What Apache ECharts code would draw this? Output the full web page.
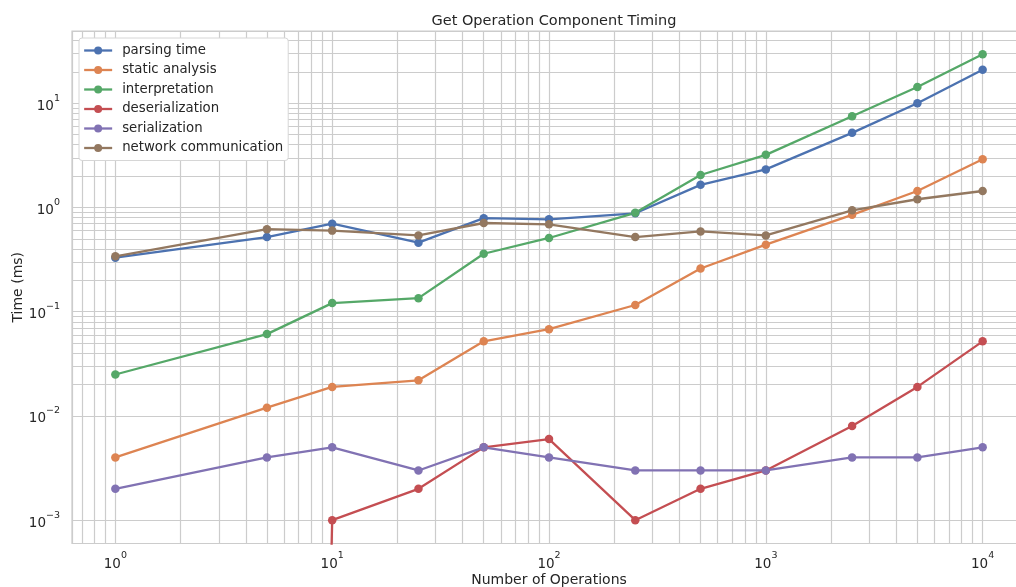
<!DOCTYPE html>
<html>
<head>
<meta charset="utf-8">
<script src="https://cdn.jsdelivr.net/npm/echarts@6/dist/echarts.min.js"></script>
<style>
  html, body { margin: 0; padding: 0; background: #ffffff; overflow: hidden; }
  #chart { width: 1016px; height: 587px; }
</style>
</head>
<body>
<div id="chart"></div>
<script>
// Number of operations (x) and per-component timings in ms (y)
const ops = [1, 5, 10, 25, 50, 100, 250, 500, 1000, 2500, 5000, 10000];
const parsingTime = [0.33, 0.52, 0.70, 0.46, 0.79, 0.77, 0.88, 1.65, 2.32, 5.2, 10.0, 21.0];
const staticAnalysis = [0.004, 0.012, 0.019, 0.022, 0.052, 0.068, 0.116, 0.26, 0.44, 0.85, 1.44, 2.9];
const interpretation = [0.025, 0.061, 0.121, 0.135, 0.36, 0.51, 0.89, 2.05, 3.2, 7.5, 14.3, 29.5];
const deserialization = [0, 0, 0.001, 0.002, 0.005, 0.006, 0.001, 0.002, 0.003, 0.008, 0.019, 0.052];
const serialization = [0.002, 0.004, 0.005, 0.003, 0.005, 0.004, 0.003, 0.003, 0.003, 0.004, 0.004, 0.005];
const network = [0.34, 0.62, 0.60, 0.54, 0.71, 0.69, 0.52, 0.59, 0.54, 0.94, 1.2, 1.44];

const seriesNames = ['parsing time', 'static analysis', 'interpretation', 'deserialization', 'serialization', 'network communication'];
const seriesValues = [parsingTime, staticAnalysis, interpretation, deserialization, serialization, network];
const colors = ['#4c72b0', '#dd8452', '#55a868', '#c44e52', '#8172b3', '#937860'];

// Axis extents with a 5% padding in log space
const xMin = Math.pow(10, -0.2), xMax = Math.pow(10, 4.2);
const yMin = Math.pow(10, -3.2235), yMax = Math.pow(10, 1.6933);

// Non-positive values cannot sit on a log axis: clip them far below the view
const CLIP_FLOOR = 1e-30;

const gridColor = '#cccccc';
const textColor = '#262626';

function powLabel(v) {
  const e = Math.log10(v);
  const r = Math.round(e);
  if (Math.abs(e - r) > 1e-6) return '';
  const exp = r < 0 ? '\u2212' + (-r) : String(r);
  return '{b|10}{s|' + exp + '}';
}
const labelRich = {
  b: { fontSize: 13.5, lineHeight: 20, verticalAlign: 'bottom', color: textColor, fontFamily: 'DejaVu Sans' },
  s: { fontSize: 9.5, lineHeight: 12, verticalAlign: 'top', color: textColor, fontFamily: 'DejaVu Sans' }
};

// Minor log grid values (2..9 x 10^k) inside each extent
function minorValues(lo, hi) {
  const out = [];
  for (let k = -5; k <= 5; k++) {
    for (let m = 2; m <= 9; m++) {
      const v = m * Math.pow(10, k);
      if (v > lo && v < hi) out.push(v);
    }
  }
  return out;
}
const minorLines = []
  .concat(minorValues(xMin, xMax).map(v => ({ xAxis: v })))
  .concat(minorValues(yMin, yMax).map(v => ({ yAxis: v })));

const dataSeries = seriesNames.map((name, i) => ({
  name: name,
  type: 'line',
  data: ops.map((x, j) => [x, seriesValues[i][j] > 0 ? seriesValues[i][j] : CLIP_FLOOR]),
  symbol: 'circle',
  symbolSize: 8.5,
  clip: true,
  z: 3,
  itemStyle: { color: colors[i], borderWidth: 0 },
  lineStyle: { color: colors[i], width: 2.3 },
  emphasis: { disabled: true },
  animation: false
}));

const gridSeries = {
  name: '__minor_grid',
  type: 'line',
  data: [],
  z: 1,
  silent: true,
  animation: false,
  markLine: {
    z: 1,
    silent: true,
    symbol: ['none', 'none'],
    label: { show: false },
    lineStyle: { type: 'solid', color: gridColor, width: 1.2 },
    emphasis: { disabled: true },
    animation: false,
    data: minorLines
  }
};

const chart = echarts.init(document.getElementById('chart'), null, { renderer: 'canvas' });
chart.setOption({
  backgroundColor: '#ffffff',
  animation: false,
  textStyle: { fontFamily: 'DejaVu Sans' },
  title: {
    text: 'Get Operation Component Timing',
    left: 549,
    textAlign: 'center',
    top: 9,
    textStyle: { fontSize: 14.5, fontWeight: 'normal', color: textColor, fontFamily: 'DejaVu Sans' }
  },
  legend: {
    data: seriesNames,
    orient: 'vertical',
    left: 79,
    top: 38,
    z: 10,
    padding: [6, 5, 6, 4],
    itemWidth: 28,
    itemHeight: 10,
    itemGap: 6.5,
    backgroundColor: '#ffffff',
    borderColor: '#d6d6d6',
    borderWidth: 1,
    borderRadius: 3,
    itemStyle: { borderWidth: 0 },
    lineStyle: { width: 2.3, type: 'solid' },
    textStyle: { fontSize: 13.3, color: textColor, fontFamily: 'DejaVu Sans', lineHeight: 10, padding: [0, 0, 0, 5] }
  },
  grid: {
    left: 72, top: 31, right: -10, bottom: 43.5,
    outerBoundsMode: 'none',
    show: true,
    borderColor: gridColor,
    borderWidth: 1.2,
    containLabel: false
  },
  xAxis: {
    type: 'log',
    logBase: 10,
    min: xMin,
    max: xMax,
    name: 'Number of Operations',
    nameLocation: 'middle',
    nameGap: 29.5,
    nameMoveOverlap: false,
    nameTextStyle: { fontSize: 14, color: textColor, fontFamily: 'DejaVu Sans' },
    axisLine: { show: false },
    axisTick: { show: false },
    axisLabel: { formatter: powLabel, rich: labelRich, margin: 7.5 },
    splitLine: { show: true, lineStyle: { color: gridColor, width: 1.2 } }
  },
  yAxis: {
    type: 'log',
    logBase: 10,
    min: yMin,
    max: yMax,
    name: 'Time (ms)',
    nameLocation: 'middle',
    nameGap: 47,
    nameMoveOverlap: false,
    nameTextStyle: { fontSize: 14, color: textColor, fontFamily: 'DejaVu Sans' },
    axisLine: { show: false },
    axisTick: { show: false },
    axisLabel: { formatter: powLabel, rich: labelRich, margin: 12 },
    splitLine: { show: true, lineStyle: { color: gridColor, width: 1.2 } }
  },
  series: [gridSeries].concat(dataSeries)
});
</script>
</body>
</html>
